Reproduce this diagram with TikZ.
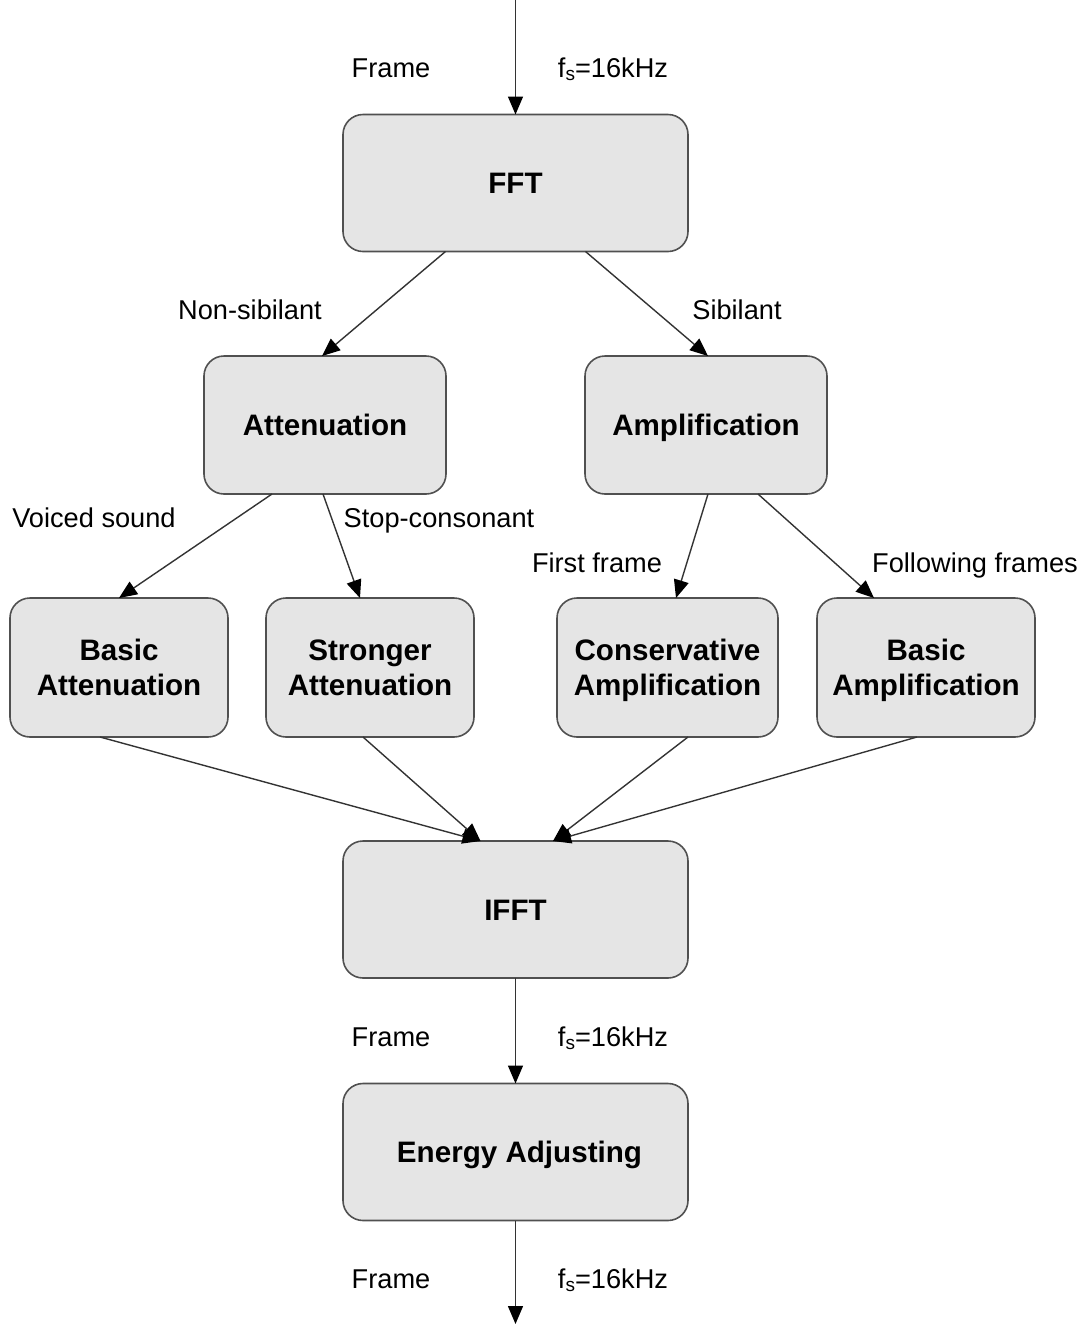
\documentclass[tikz,border=0pt]{standalone}
\usepackage{fontspec}
\setmainfont{Liberation Sans}
\usetikzlibrary{arrows.meta,calc}
\definecolor{boxgray}{HTML}{E5E5E5}
\definecolor{edgegray}{HTML}{505050}
\newcommand{\fsrate}{f{\fontsize{9.5pt}{10pt}\selectfont\raisebox{-0.25ex}{s}}=16kHz}
\begin{document}
\begin{tikzpicture}[x=0.5pt,y=-0.5pt,
  box/.style={draw=edgegray, fill=boxgray, line width=0.8pt, rounded corners=10pt,
    outer sep=0pt, inner sep=2pt, align=center,
    font=\fontsize{14.8pt}{17.5pt}\selectfont\bfseries},
  oneline/.style={text height=10.6pt, text depth=0pt},
  wide/.style={oneline, minimum width=172.5pt, minimum height=68.5pt},
  mid/.style={oneline, minimum width=121pt, minimum height=69pt},
  leaf/.style={minimum height=69.5pt},
  arr/.style={draw=black!80, line width=0.7pt,
    -{Triangle[width=7.5pt,length=9pt,color=black]}},
  lbl/.style={font=\fontsize{13.6pt}{16pt}\selectfont, inner sep=0pt,
    text height=9.8pt, text depth=0pt}]
\useasboundingbox (0,0) rectangle (1088,1324);

% processing blocks
\node[box,wide] (fft)    at (515.5,183)   {FFT};
\node[box,mid]  (att)    at (325,425)     {Attenuation};
\node[box,mid]  (amp)    at (706,425)     {Amplification};
\node[box,leaf,minimum width=109pt]   (batt) at (119,667.5) {Basic\\Attenuation};
\node[box,leaf,minimum width=104pt]   (satt) at (370,667.5) {Stronger\\Attenuation};
\node[box,leaf,minimum width=110.5pt] (camp) at (667.5,667.5) {Conservative\\Am\smash{p}lification};
\node[box,leaf,minimum width=109pt]   (bamp) at (926,667.5) {Basic\\Am\smash{p}lification};
\node[box,wide] (ifft)   at (515.5,909.5) {IFFT};
\node[box,wide] (energy) at (515.5,1152)  {\hspace{4pt}Energy Adjusting};

% signal entry and exit
\coordinate (in)  at (515.5,0);
\coordinate (out) at (515.5,1324);

% connectors
\draw[arr] (in) -- (fft.north);
\draw[arr] ($(fft.south)+(-70,0)$) -- ($(att.north)+(-3,0)$);
\draw[arr] ($(fft.south)+(70,0)$)  -- ($(amp.north)+(2,0)$);
\draw[arr] ($(att.south)+(-53,0)$) -- (batt.north);
\draw[arr] ($(att.south)+(-2,0)$)  -- ($(satt.north)+(-10,0)$);
\draw[arr] ($(amp.south)+(2,0)$)   -- ($(camp.north)+(8.5,0)$);
\draw[arr] ($(amp.south)+(52,0)$)  -- ($(bamp.north)+(-52,0)$);
\draw[arr] ($(batt.south)+(-19,0)$) -- ($(ifft.north)+(-35,0)$);
\draw[arr] ($(satt.south)+(-7,0)$)  -- ($(ifft.north)+(-35,0)$);
\draw[arr] ($(camp.south)+(20.5,0)$) -- ($(ifft.north)+(37.5,0)$);
\draw[arr] ($(bamp.south)+(-9,0)$)  -- ($(ifft.north)+(37.5,0)$);
\draw[arr] (ifft.south) -- (energy.north);
\draw[arr] (energy.south) -- (out);

% labels
\node[lbl] (fr1) at (391,68)   {Frame};
\node[lbl] (fs1) at (613,68)   {\fsrate};
\node[lbl] (ns)  at (250,310)  {Non-sibilant};
\node[lbl] (sb)  at (737,310)  {Sibilant};
\node[lbl] (vs)  at (94,518)   {Voiced sound};
\node[lbl] (sc)  at (439,518)  {Stop-consonant};
\node[lbl] (ff)  at (597,563)  {First frame};
\node[lbl] (fl)  at (975,563)  {Following frames};
\node[lbl] (fr2) at (391,1037) {Frame};
\node[lbl] (fs2) at (613,1037) {\fsrate};
\node[lbl] (fr3) at (391,1279) {Frame};
\node[lbl] (fs3) at (613,1279) {\fsrate};
\end{tikzpicture}
\end{document}
